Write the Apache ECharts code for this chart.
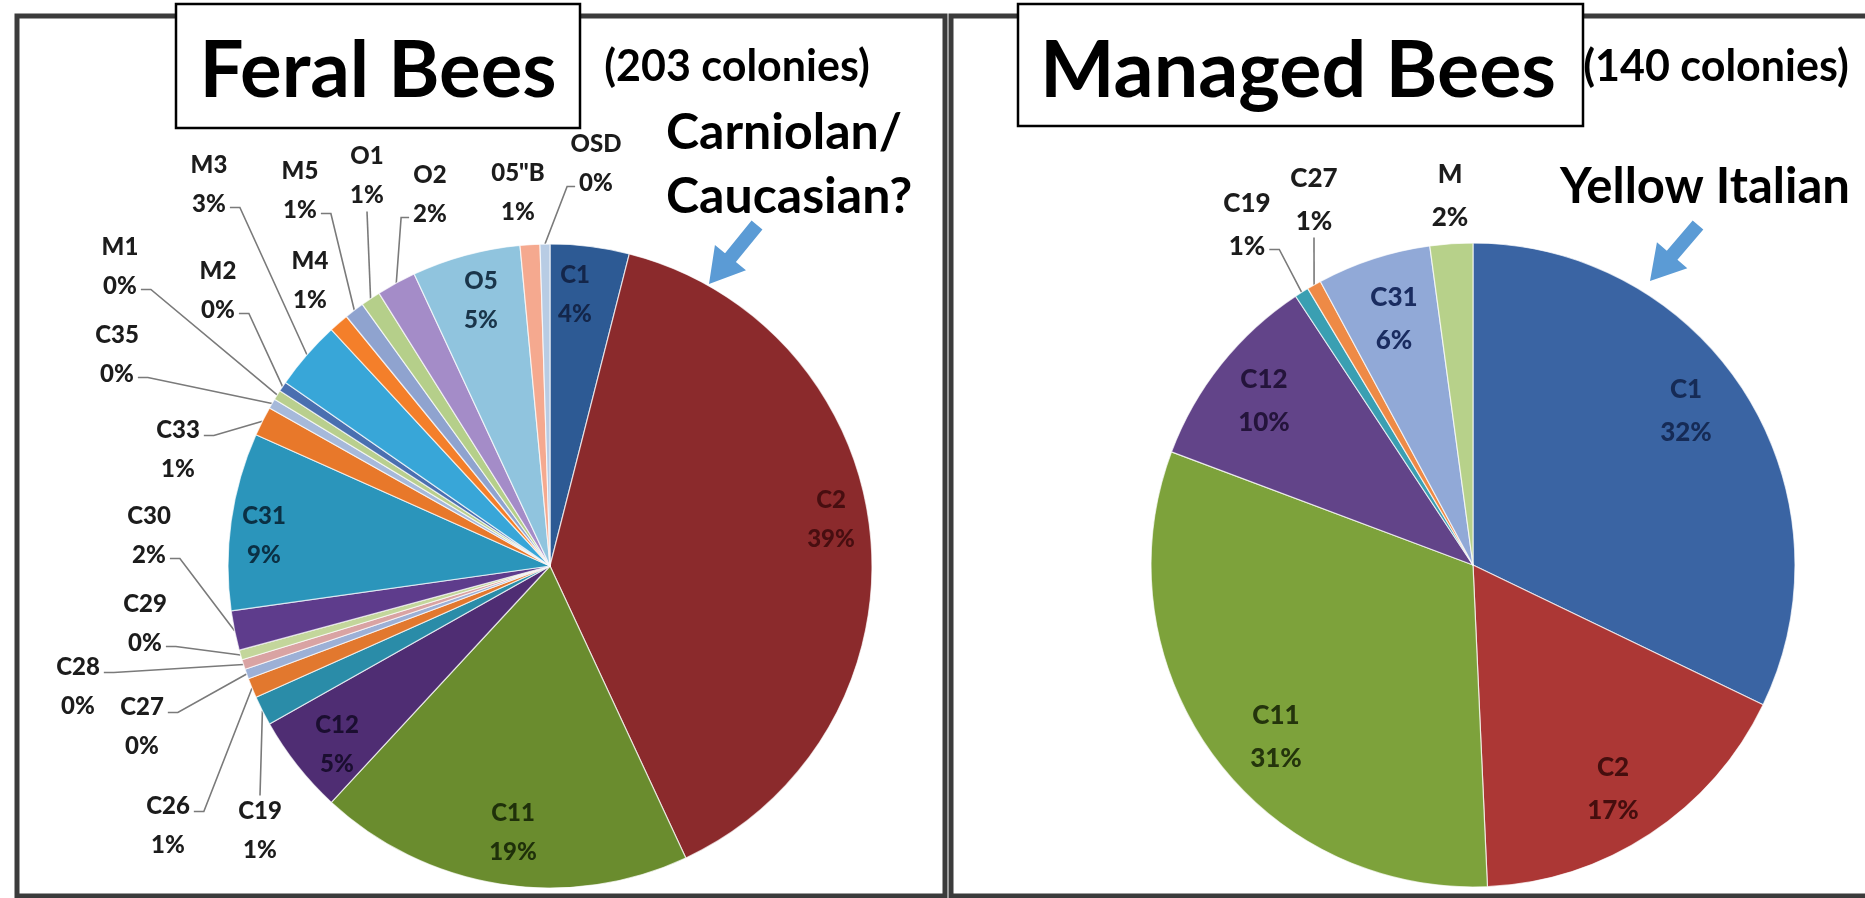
<!DOCTYPE html>
<html>
<head>
<meta charset="utf-8">
<script src="https://cdn.jsdelivr.net/npm/echarts@6/dist/echarts.min.js"></script>
<style>html,body{margin:0;padding:0;background:#fff}#c{width:1865px;height:898px}</style>
</head>
<body>
<div id="c"></div>
<script>
// ---------------- data ----------------
const feralCategories = ['C1','C2','C11','C12','C19','C26','C27','C28','C29','C30','C31','C33','C35','M1','M2','M3','M4','M5','O1','O2','O5','05"B','OSD'];
const feralColonies   = [8, 79, 38, 10, 3, 2, 1, 1, 1, 4, 18, 3, 1, 1, 1, 7, 2, 2, 2, 4, 11, 2, 1]; // 203 colonies
const managedCategories = ['C1','C2','C11','C12','C19','C27','C31','M'];
const managedColonies   = [45, 24, 44, 14, 1, 1, 8, 3]; // 140 colonies
const panelTitles  = ['Feral Bees', 'Managed Bees'];
const colonyNotes  = ['(203 colonies)', '(140 colonies)'];
const arrowNotesFeral   = ['Carniolan/', 'Caucasian?'];
const arrowNoteManaged  = 'Yellow Italian';

// ---------------- styles ----------------
const feralColors = ['#2D5A94','#8B2A2C','#6A8C2E','#4F2D73','#2A8CA8','#E2782E','#9CB0D6','#D9A3A3','#C3D69B','#5E3C8C','#2B95BB','#E8782A','#A6B9DA','#B9CF8E','#4A6FB0','#38A6D8','#F47F2A','#8FA3CF','#B5CF8A','#A48CC8','#90C4DE','#F5A98F','#B8CCE4'];
const managedColors = ['#3A64A3','#AC3735','#7DA23B','#624489','#3A9FB2','#EE8A46','#91A9D7','#B7D18A'];

// label layout (positions of the text blocks and where leader lines attach)
const feralLabelPos = {
  'C1':  {x:575, y:295, side:'in', color:'#14264a'},
  'C2':  {x:831, y:520, side:'in', color:'#470e10'},
  'C11': {x:513, y:833, side:'in', color:'#1f300a'},
  'C12': {x:337, y:745, side:'in', color:'#1b0e30'},
  'C19': {x:260, y:831, side:'t'},
  'C26': {x:168, y:826, side:'r1'},
  'C27': {x:142, y:727, side:'r1'},
  'C28': {x:78,  y:687, side:'r1'},
  'C29': {x:145, y:624, side:'r2'},
  'C30': {x:149, y:536, side:'r2'},
  'C31': {x:264, y:536, side:'in', color:'#0b3044'},
  'C33': {x:178, y:450, side:'r1'},
  'C35': {x:117, y:355, side:'r2'},
  'M1':  {x:120, y:267, side:'r2'},
  'M2':  {x:218, y:291, side:'r2'},
  'M3':  {x:209, y:185, side:'r2'},
  'M4':  {x:310, y:281, side:'none'},
  'M5':  {x:300, y:191, side:'r2'},
  'O1':  {x:367, y:176, side:'b'},
  'O2':  {x:430, y:195, side:'l2'},
  'O5':  {x:481, y:301, side:'in', color:'#1a354a'},
  '05"B':{x:518, y:193, side:'none'},
  'OSD': {x:596, y:164, side:'l2'}
};
const managedLabelPos = {
  'C1':  {x:1686, y:411, side:'in', color:'#162b56'},
  'C2':  {x:1613, y:789, side:'in', color:'#450e0e'},
  'C11': {x:1276, y:737, side:'in', color:'#24340c'},
  'C12': {x:1264, y:401, side:'in', color:'#24143b'},
  'C19': {x:1247, y:225, side:'r2'},
  'C27': {x:1314, y:200, side:'b'},
  'C31': {x:1394, y:319, side:'in', color:'#1a2c60'},
  'M':   {x:1450, y:196, side:'none'}
};

const FONT = 'Lato';
const LABEL_WEIGHT = 900;
const measureCtx = document.createElement('canvas').getContext('2d');
function textW(t, size) { measureCtx.font = LABEL_WEIGHT + ' ' + size + 'px ' + FONT; return measureCtx.measureText(t).width; }
function pct(v, total) { return Math.round(v / total * 100) + '%'; }

function makeLayout(cats, vals, posMap, fontSize, lineH) {
  const total = vals.reduce((a, b) => a + b, 0);
  return function (params) {
    const name = cats[params.dataIndex];
    const L = posMap[name];
    const res = { x: L.x, y: L.y, align: 'center', verticalAlign: 'middle' };
    if (L.side !== 'in' && L.side !== 'none' && params.labelLinePoints) {
      const p0 = params.labelLinePoints[0];
      const w1 = textW(name, fontSize), w2 = textW(pct(vals[params.dataIndex], total), fontSize);
      let p1, p2;
      if (L.side === 'r1') { p2 = [L.x + w1 / 2 + 4, L.y - lineH / 2 + 5]; p1 = [p2[0] + 10, p2[1]]; }
      else if (L.side === 'r2') { p2 = [L.x + w2 / 2 + 4, L.y + lineH / 2 + 3]; p1 = [p2[0] + 10, p2[1]]; }
      else if (L.side === 'l2') { p2 = [L.x - w2 / 2 - 4, L.y + lineH / 2 + 3]; p1 = [p2[0] - 8, p2[1]]; }
      else if (L.side === 'b') { p2 = [L.x, L.y + lineH / 2 + 16]; p1 = [(p2[0] + p0[0]) / 2, (p2[1] + p0[1]) / 2]; }
      else { p2 = [L.x, L.y - lineH / 2 - 16]; p1 = [(p2[0] + p0[0]) / 2, (p2[1] + p0[1]) / 2]; }
      res.labelLinePoints = [p0, p1, p2];
    }
    return res;
  };
}

function pieSeries(cats, vals, colors, posMap, center, fontSize, lineH) {
  const total = vals.reduce((a, b) => a + b, 0);
  return {
    type: 'pie',
    center: center,
    radius: 322,
    startAngle: 90,
    clockwise: true,
    avoidLabelOverlap: false,
    animation: false,
    silent: true,
    z: 2,
    itemStyle: { borderColor: 'rgba(255,255,255,0.7)', borderWidth: 1.2 },
    label: {
      fontFamily: FONT, fontWeight: LABEL_WEIGHT, fontSize: fontSize, lineHeight: lineH,
      color: '#1c1c1c',
      formatter: p => p.name + '\n' + pct(p.value, total)
    },
    labelLine: { show: true, smooth: false, length: 10, length2: 10, lineStyle: { color: '#7a7a7a', width: 1.6 } },
    labelLayout: makeLayout(cats, vals, posMap, fontSize, lineH),
    data: cats.map((n, i) => {
      const L = posMap[n];
      const inside = L.side === 'in';
      return {
        name: n, value: vals[i],
        itemStyle: { color: colors[i] },
        label: inside ? { position: 'inside', color: L.color } : { position: 'outside' },
        labelLine: { show: !inside && L.side !== 'none' }
      };
    })
  };
}

function arrowPoints(t, p, sw, hw, hl) {
  const dx = p[0] - t[0], dy = p[1] - t[1], Ln = Math.hypot(dx, dy);
  const ux = dx / Ln, uy = dy / Ln, nx = -uy, ny = ux;
  const bx = p[0] - ux * hl, by = p[1] - uy * hl;
  return [[t[0] + nx * sw / 2, t[1] + ny * sw / 2], [bx + nx * sw / 2, by + ny * sw / 2], [bx + nx * hw / 2, by + ny * hw / 2], p,
          [bx - nx * hw / 2, by - ny * hw / 2], [bx - nx * sw / 2, by - ny * sw / 2], [t[0] - nx * sw / 2, t[1] - ny * sw / 2]];
}

const frameStyle = { fill: 'none', stroke: '#3b3b3b', lineWidth: 5 };
const boxStyle = { fill: '#fff', stroke: '#000', lineWidth: 2.5 };
const arrowColor = '#5B9BD5';

const chart = echarts.init(document.getElementById('c'), null, { renderer: 'canvas' });
chart.setOption({
  backgroundColor: '#fff',
  animation: false,
  graphic: [
    { type: 'rect', z: 0, shape: { x: 17, y: 16, width: 928, height: 880 }, style: frameStyle, silent: true },
    { type: 'rect', z: 0, shape: { x: 951, y: 16, width: 1000, height: 880 }, style: frameStyle, silent: true },
    { type: 'rect', z: 50, shape: { x: 176, y: 4, width: 404, height: 124 }, style: boxStyle, silent: true },
    { type: 'rect', z: 50, shape: { x: 1018, y: 4, width: 565, height: 122 }, style: boxStyle, silent: true },
    { type: 'text', z: 60, x: 378, y: 72, style: { text: panelTitles[0], font: 'bold 78px ' + FONT, fill: '#000', align: 'center', verticalAlign: 'middle' } },
    { type: 'text', z: 60, x: 1298, y: 72, style: { text: panelTitles[1], font: 'bold 79px ' + FONT, fill: '#000', align: 'center', verticalAlign: 'middle' } },
    { type: 'text', z: 60, x: 737, y: 67, style: { text: colonyNotes[0], font: 'bold 43px ' + FONT, fill: '#000', align: 'center', verticalAlign: 'middle' } },
    { type: 'text', z: 60, x: 1716, y: 67, style: { text: colonyNotes[1], font: 'bold 43px ' + FONT, fill: '#000', align: 'center', verticalAlign: 'middle' } },
    { type: 'text', z: 60, x: 666, y: 133, style: { text: arrowNotesFeral[0], font: 'bold 50px ' + FONT, fill: '#000', align: 'left', verticalAlign: 'middle' } },
    { type: 'text', z: 60, x: 666, y: 197, style: { text: arrowNotesFeral[1], font: 'bold 50px ' + FONT, fill: '#000', align: 'left', verticalAlign: 'middle' } },
    { type: 'text', z: 60, x: 1705, y: 187, style: { text: arrowNoteManaged, font: 'bold 49px ' + FONT, fill: '#000', align: 'center', verticalAlign: 'middle' } },
    { type: 'polygon', z: 60, shape: { points: arrowPoints([757, 225], [709, 284], 14, 40, 34) }, style: { fill: arrowColor }, silent: true },
    { type: 'polygon', z: 60, shape: { points: arrowPoints([1698, 225], [1650, 281], 14, 40, 34) }, style: { fill: arrowColor }, silent: true }
  ],
  series: [
    pieSeries(feralCategories, feralColonies, feralColors, feralLabelPos, [550, 566], 24, 39),
    pieSeries(managedCategories, managedColonies, managedColors, managedLabelPos, [1473, 565], 26, 43)
  ]
});
</script>
</body>
</html>
